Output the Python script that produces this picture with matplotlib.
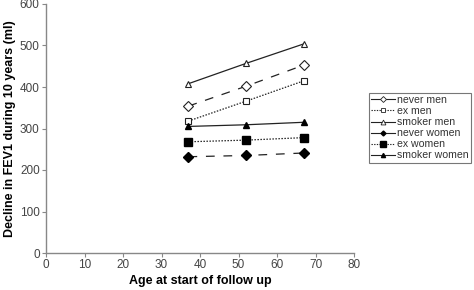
import matplotlib
matplotlib.use("Agg")
import matplotlib.pyplot as plt
from matplotlib.lines import Line2D

ages = [37, 52, 67]
never_men = [354, 402, 453]
ex_men = [318, 366, 415]
smoker_men = [408, 457, 504]
never_women = [232, 235, 241]
ex_women = [268, 272, 278]
smoker_women = [305, 309, 315]

xticks = [0, 10, 20, 30, 40, 50, 60, 70, 80]
yticks = [0, 100, 200, 300, 400, 500, 600]

plt.rcParams['font.family'] = ['Liberation Sans', 'DejaVu Sans']

fig = plt.figure(figsize=(4.74, 2.90), dpi=100)
ax = fig.add_axes([46/474, 1-253/290, (354-46)/474, (253-4)/290])

lc = '#222222'
lw = 0.9
dash = (0, (7, 7))
dot = (0, (1.2, 1.2))

ax.plot(ages, smoker_men, linestyle='-', color=lc, lw=lw, marker='^', ms=5, mfc='white', mec=lc, mew=0.8)
ax.plot(ages, never_men, linestyle=dash, color=lc, lw=lw, marker='D', ms=5, mfc='white', mec=lc, mew=0.8)
ax.plot(ages, ex_men, linestyle=dot, color=lc, lw=lw, marker='s', ms=5, mfc='white', mec=lc, mew=0.8)
ax.plot(ages, smoker_women, linestyle='-', color=lc, lw=lw, marker='^', ms=4.8, mfc='black', mec='black')
ax.plot(ages, ex_women, linestyle=dot, color=lc, lw=lw, marker='s', ms=5.3, mfc='black', mec='black')
ax.plot(ages, never_women, linestyle=dash, color=lc, lw=lw, marker='D', ms=5, mfc='black', mec='black')

ax.set_xlim(0, 80)
ax.set_ylim(0, 600)
ax.set_xticks(xticks)
ax.set_yticks(yticks)
for s in ['top', 'right']:
    ax.spines[s].set_visible(False)
for s in ['left', 'bottom']:
    ax.spines[s].set_color('#888888')
    ax.spines[s].set_linewidth(1.0)
ax.tick_params(direction='out', length=3, width=0.8, color='#888888', labelsize=8.5, labelcolor='#444444', pad=1.5)

ax.set_xlabel('Age at start of follow up', fontsize=9, fontweight='bold', labelpad=3)
ax.set_ylabel('Decline in FEV1 during 10 years (ml)', fontsize=9, fontweight='bold', labelpad=3)

handles = [
    Line2D([], [], color=lc, lw=0.8, marker='D', ms=3, mfc='white', mec=lc, mew=0.6),
    Line2D([], [], color=lc, lw=0.8, linestyle=dot, marker='s', ms=3, mfc='white', mec=lc, mew=0.6),
    Line2D([], [], color=lc, lw=0.8, marker='^', ms=3.5, mfc='white', mec=lc, mew=0.6),
    Line2D([], [], color=lc, lw=0.8, marker='D', ms=2.5, mfc='black', mec='black'),
    Line2D([], [], color=lc, lw=0.8, linestyle=dot, marker='s', ms=5, mfc='black', mec='black'),
    Line2D([], [], color=lc, lw=0.8, marker='^', ms=3, mfc='black', mec='black'),
]
labels = ['never men', 'ex men', 'smoker men', 'never women', 'ex women', 'smoker women']
leg = fig.legend(handles, labels, loc='upper left', bbox_to_anchor=(369/474, 1-93/290),
                 fontsize=7.6, frameon=True, fancybox=False, edgecolor='#555555',
                 handlelength=2.3, handletextpad=0.15, labelspacing=0.1,
                 borderpad=0.2, borderaxespad=0, labelcolor='#333333')
leg.get_frame().set_linewidth(0.8)

fig.savefig('out.png', dpi=100)
